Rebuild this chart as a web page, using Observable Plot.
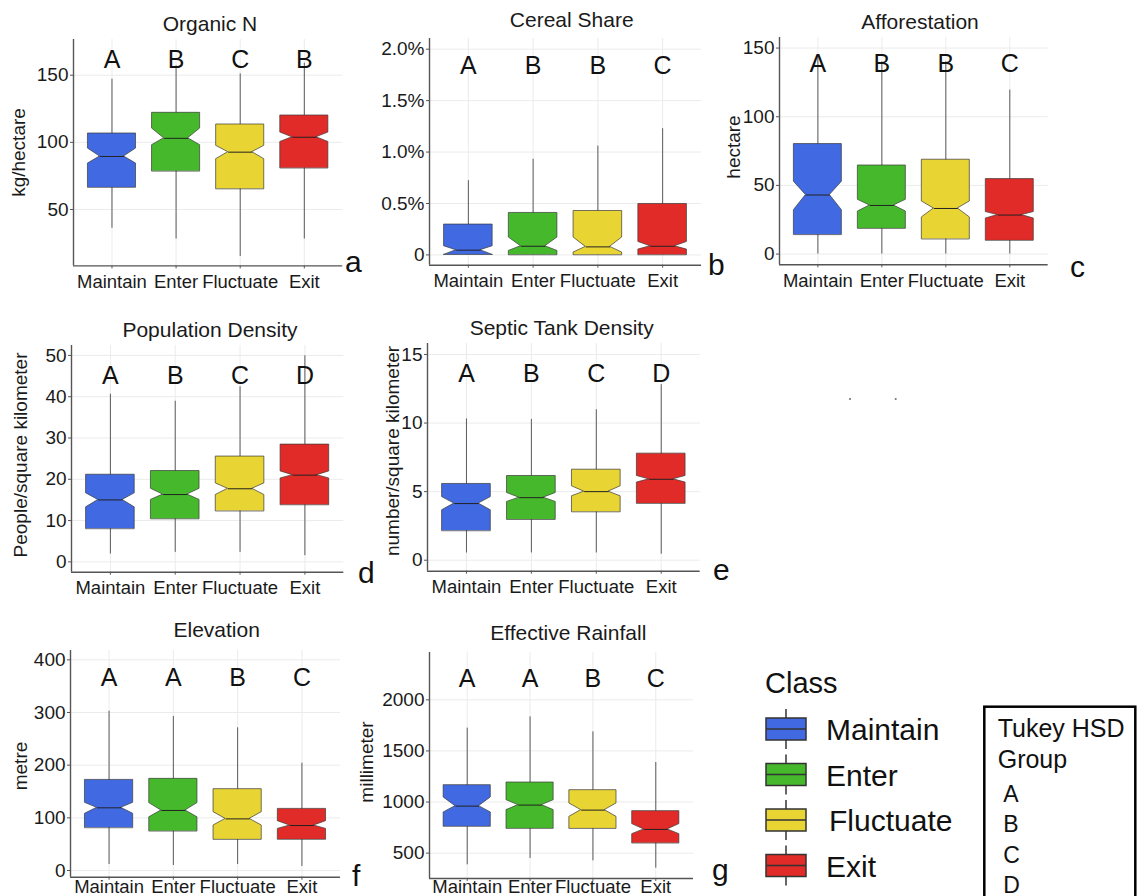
<!DOCTYPE html>
<html><head><meta charset="utf-8">
<script src="https://cdn.jsdelivr.net/npm/d3@7"></script>
<script src="https://cdn.jsdelivr.net/npm/@observablehq/plot@0.6"></script>
<style>
html,body{margin:0;padding:0;width:1137px;height:896px;overflow:hidden;background:#fff;}
#root{position:relative;width:1137px;height:896px;overflow:hidden;font-family:"Liberation Sans",Arial,sans-serif;}
#root svg{position:absolute;}
</style></head><body><div id="root"></div>
<script>
// ---------------- data ----------------
const classes = ["Maintain", "Enter", "Fluctuate", "Exit"];
const classColors = ["#4169E1", "#46B82B", "#E8D432", "#E12B28"];
// per class: [whiskerLow, Q1, notchLow, median, notchHigh, Q3, whiskerHigh]
const organicN = [[36, 66.4, 84.2, 89.5, 95.4, 106.6, 147], [28, 78.5, 97.9, 103, 110.3, 122, 157], [15, 65.3, 87.5, 92.7, 97.4, 113.3, 151], [28, 80.8, 100.3, 103.8, 107.3, 120, 159]];
const organicNLetters = ["A", "B", "C", "B"];
const cerealShare = [[0, 0, 0, 0.046, 0.084, 0.295, 0.722], [0, 0, 0.039, 0.084, 0.169, 0.408, 0.93], [0, 0, 0.023, 0.078, 0.169, 0.427, 1.058], [0, 0, 0.052, 0.084, 0.126, 0.495, 1.227]];
const cerealShareLetters = ["A", "B", "B", "C"];
const afforestation = [[0, 14.1, 32, 43, 52.7, 80.1, 145], [0, 18.6, 31, 35.4, 39.5, 64.5, 140], [0, 10.9, 26.7, 33.2, 38.3, 68.7, 140], [0, 9.9, 25.9, 28.4, 30.6, 54.6, 119.4]];
const afforestationLetters = ["A", "B", "B", "C"];
const populationDensity = [[1.9, 8, 13.2, 15, 16.6, 21.1, 40.6], [2.3, 10.4, 15, 16.3, 17.7, 22, 38.9], [2.3, 12.3, 16.2, 17.7, 19, 25.5, 42.4], [1.5, 13.8, 20.2, 21, 21.9, 28.4, 49.9]];
const populationDensityLetters = ["A", "B", "C", "D"];
const septicDensity = [[0.53, 2.14, 3.64, 4.13, 4.6, 5.56, 10.3], [0.53, 2.96, 4.25, 4.56, 4.9, 6.14, 10.27], [0.53, 3.52, 4.66, 5.0, 5.39, 6.6, 10.97], [0.44, 4.13, 5.66, 5.9, 6.14, 7.77, 12.8]];
const septicDensityLetters = ["A", "B", "C", "D"];
const elevation = [[11.4, 81, 107.6, 119, 128.5, 172, 302.5], [9.5, 74.7, 101, 114, 128, 174, 292.4], [11.4, 58.9, 85.4, 98, 110.8, 154.4, 270.9], [7.6, 58.9, 79, 85.4, 93.7, 117, 203.8]];
const elevationLetters = ["A", "A", "B", "C"];
const rainfall = [[386, 761, 898, 960, 1045, 1165, 1723], [448, 741, 921, 970, 1018, 1191, 1834], [425, 741, 855, 921, 986, 1116, 1687], [353, 598, 686, 732, 784, 911, 1387]];
const rainfallLetters = ["A", "A", "B", "C"];
const tukeyGroups = ["A", "B", "C", "D"];

// ---------------- panels ----------------
const panels = [
  {title: "Organic N", ylab: "kg/hectare", tag: "a", stats: organicN, letters: organicNLetters,
   ticks: [50, 100, 150], domain: [8, 176.6], letterY: 161.2,
   area: [72.7, 342, 39.3, 265.7], titlePos: [210, 30.7], ylabPos: [18, 152.5], tagPos: [345, 271.7]},
  {title: "Cereal Share", ylab: null, tag: "b", stats: cerealShare, letters: cerealShareLetters,
   ticks: [0, 0.5, 1, 1.5, 2], domain: [-0.1, 2.104], letterY: 1.834,
   fmt: d => d === 0 ? "0" : d.toFixed(1) + "%",
   area: [429, 701, 38.3, 265], titlePos: [571.7, 27.3], ylabPos: null, tagPos: [708, 275]},
  {title: "Afforestation", ylab: "hectare", tag: "c", stats: afforestation, letters: afforestationLetters,
   ticks: [0, 50, 100, 150], domain: [-7.8, 157.7], letterY: 138.4,
   area: [779.3, 1048, 36.7, 264], titlePos: [920, 29.3], ylabPos: [733, 147], tagPos: [1070, 276.7]},
  {title: "Population Density", ylab: "People/square kilometer", tag: "d", stats: populationDensity, letters: populationDensityLetters,
   ticks: [0, 10, 20, 30, 40, 50], domain: [-2.5, 52.4], letterY: 45.1,
   area: [70.7, 343, 345, 571.7], titlePos: [210, 336.7], ylabPos: [20, 455], tagPos: [358, 583]},
  {title: "Septic Tank Density", ylab: "number/square kilometer", tag: "e", stats: septicDensity, letters: septicDensityLetters,
   ticks: [0, 5, 10, 15], domain: [-0.8, 15.8], letterY: 13.6,
   area: [427.3, 700, 343.3, 571], titlePos: [561.7, 335], ylabPos: [392, 451], tagPos: [713, 580]},
  {title: "Elevation", ylab: "metre", tag: "f", stats: elevation, letters: elevationLetters,
   ticks: [0, 100, 200, 300, 400], domain: [-12.7, 417.7], letterY: 365.8, xPad: 0,
   area: [70, 340, 650, 876.7], titlePos: [216.7, 637.3], ylabPos: [20, 766], tagPos: [352, 886]},
  {title: "Effective Rainfall", ylab: "millimeter", tag: "g", stats: rainfall, letters: rainfallLetters,
   ticks: [500, 1000, 1500, 2000], domain: [252, 2463], letterY: 2205, xPad: -1.5,
   area: [429.3, 693.3, 651.7, 877.7], titlePos: [568.3, 640], ylabPos: [366, 762], tagPos: [712, 880]}
];

const root = document.getElementById("root");
const FONT = "'Liberation Sans', Arial, sans-serif";
const HW = 0.375, NW = 0.1875;

for (const p of panels) {
  const [x0, x1, y0, y1] = p.area;
  const ML = 80, MR = 20, MT = 12, MB = 40;
  const rows = p.stats.map((s, k) => ({i: k + 1, cls: classes[k], lo: s[0], q1: s[1], nlo: s[2], med: s[3], nhi: s[4], q3: s[5], hi: s[6], letter: p.letters[k]}));
  const poly = rows.flatMap(r => [
    {cls: r.cls, y: r.q1, a: r.i - HW, b: r.i + HW},
    {cls: r.cls, y: r.nlo, a: r.i - HW, b: r.i + HW},
    {cls: r.cls, y: r.med, a: r.i - NW, b: r.i + NW},
    {cls: r.cls, y: r.nhi, a: r.i - HW, b: r.i + HW},
    {cls: r.cls, y: r.q3, a: r.i - HW, b: r.i + HW}
  ]);
  const svg = Plot.plot({
    width: x1 - x0 + ML + MR,
    height: y1 - y0 + MT + MB,
    marginLeft: ML, marginRight: MR, marginTop: MT, marginBottom: MB,
    style: {background: "transparent", fontFamily: FONT, color: "#1a1a1a", overflow: "visible"},
    x: {domain: [0.4, 4.6]},
    y: {domain: p.domain},
    color: {domain: classes, range: classColors},
    marks: [
      Plot.gridY(p.ticks, {stroke: "#ebebeb", strokeOpacity: 1, strokeWidth: 1}),
      Plot.gridX([1, 2, 3, 4], {stroke: "#ebebeb", strokeOpacity: 1, strokeWidth: 1}),
      Plot.ruleX(rows, {x: "i", y1: "lo", y2: "hi", stroke: "#5a5a5a", strokeWidth: 1}),
      Plot.areaX(poly, {y: "y", x1: "a", x2: "b", z: "cls", fill: "cls", stroke: "#3a3a3a", strokeWidth: 0.7, curve: "linear"}),
      Plot.link(rows, {x1: d => d.i - NW, x2: d => d.i + NW, y1: "med", y2: "med", stroke: "#222", strokeWidth: 1}),
      Plot.text(rows, {x: "i", y: () => p.letterY, text: "letter", fontSize: 25, fill: "#111"}),
      Plot.ruleX([0.4], {stroke: "#555", strokeWidth: 1.4}),
      Plot.ruleY([p.domain[0]], {stroke: "#555", strokeWidth: 1.4}),
      Plot.axisY(p.ticks, {tickSize: 3, tickPadding: 2, fontSize: 19, stroke: "#555", fill: "#1a1a1a", tickFormat: p.fmt || (d => String(d)), label: null}),
      Plot.axisX([1, 2, 3, 4], {tickSize: 3, tickPadding: p.xPad ?? 6, fontSize: 18.5, stroke: "#555", fill: "#1a1a1a", tickFormat: d => classes[d - 1], label: null})
    ]
  });
  svg.style.left = (x0 - ML) + "px";
  svg.style.top = (y0 - MT) + "px";
  root.appendChild(svg);
}

// ---------------- overlay: titles, labels, legend ----------------
const NS = "http://www.w3.org/2000/svg";
const ov = document.createElementNS(NS, "svg");
ov.setAttribute("width", 1137); ov.setAttribute("height", 896);
ov.style.left = "0px"; ov.style.top = "0px"; ov.style.pointerEvents = "none";
ov.style.fontFamily = FONT;
root.appendChild(ov);
function el(tag, attrs, txt) {
  const e = document.createElementNS(NS, tag);
  for (const k in attrs) e.setAttribute(k, attrs[k]);
  if (txt != null) e.textContent = txt;
  ov.appendChild(e);
  return e;
}
for (const p of panels) {
  el("text", {x: p.titlePos[0], y: p.titlePos[1], "text-anchor": "middle", "font-size": 21, fill: "#1a1a1a"}, p.title);
  if (p.ylab) el("text", {transform: `translate(${p.ylabPos[0]},${p.ylabPos[1]}) rotate(-90)`, "text-anchor": "middle", dy: "0.35em", "font-size": 19, fill: "#1a1a1a"}, p.ylab);
  el("text", {x: p.tagPos[0], y: p.tagPos[1], "font-size": 30, fill: "#111"}, p.tag);
}
// stray dots
el("circle", {cx: 850, cy: 399, r: 1.1, fill: "#777"});
el("circle", {cx: 895.7, cy: 399, r: 1.1, fill: "#777"});

// Class legend
el("text", {x: 765, y: 693, "font-size": 29, fill: "#111"}, "Class");
const keyCenters = [729, 774.5, 820, 865.5];
classes.forEach((c, k) => {
  const cy = keyCenters[k];
  el("line", {x1: 786, x2: 786, y1: cy - 20, y2: cy + 20, stroke: "#333", "stroke-width": 1.5});
  el("rect", {x: 766, y: cy - 11, width: 40, height: 22, fill: classColors[k], stroke: "#333", "stroke-width": 1.5});
  el("line", {x1: 766, x2: 806, y1: cy, y2: cy, stroke: "#333", "stroke-width": 1.5});
  el("text", {x: c === "Fluctuate" ? 829 : 826, y: cy + 11, "font-size": 30, fill: "#111"}, c);
});

// Tukey box
el("rect", {x: 984.3, y: 706.7, width: 151, height: 260, fill: "none", stroke: "#000", "stroke-width": 2.5});
el("text", {x: 997.7, y: 736.7, "font-size": 25, fill: "#111"}, "Tukey HSD");
el("text", {x: 997.7, y: 768.3, "font-size": 25, fill: "#111"}, "Group");
const tukeyBaselines = [801.7, 831.7, 863, 892.5];
tukeyGroups.forEach((g, k) => el("text", {x: 1003.3, y: tukeyBaselines[k], "font-size": 23, fill: "#111"}, g));
</script></body></html>
